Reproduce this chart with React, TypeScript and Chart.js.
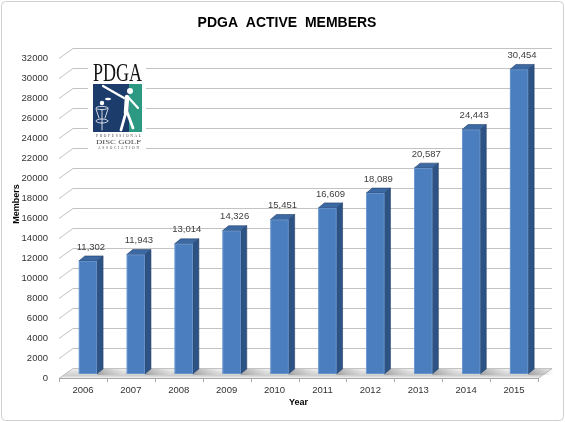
import React, { useEffect, useRef } from 'react';
import { Chart, registerables } from 'chart.js';

Chart.register(...registerables);

const categories = ['2006', '2007', '2008', '2009', '2010', '2011', '2012', '2013', '2014', '2015'];
const members = [11302, 11943, 13014, 14326, 15451, 16609, 18089, 20587, 24443, 30454];
const yMin = 0;
const yMax = 32000;
const yStep = 2000;
const chartTitle = 'PDGA  ACTIVE  MEMBERS';
const xTitle = 'Year';
const yTitle = 'Members';
const logoWord = 'PDGA';
const logoLines = ['PROFESSIONAL', 'DISC GOLF', 'ASSOCIATION'];

const SANS = "'Liberation Sans', Arial, sans-serif";
const SERIF = "'Liberation Serif', 'DejaVu Serif', serif";

const WALL = { dx: 14, dy: 10 };
const BAR = { ox: 5, oy: 4, dx: 6, dy: 5 };

function fitText(ctx: any, text: string, x: number, y: number, width: number) {
  const w = ctx.measureText(text).width;
  ctx.save();
  ctx.translate(x, y);
  ctx.scale(width / w, 1);
  ctx.fillText(text, 0, 0);
  ctx.restore();
}

function spacedText(ctx: any, text: string, x: number, y: number, width: number) {
  const chars = text.split('');
  const widths = chars.map((c) => ctx.measureText(c).width);
  const total = widths.reduce((a, b) => a + b, 0);
  const gap = chars.length > 1 ? (width - total) / (chars.length - 1) : 0;
  let cx = x;
  chars.forEach((c, i) => {
    ctx.fillText(c, cx, y);
    cx += widths[i] + gap;
  });
}

function drawLogo(ctx: any) {
  ctx.save();
  ctx.fillStyle = '#ffffff';
  ctx.fillRect(88, 55, 58, 98);
  ctx.fillStyle = '#141414';
  ctx.textBaseline = 'alphabetic';
  ctx.textAlign = 'left';
  ctx.font = `26px ${SERIF}`;
  fitText(ctx, logoWord, 93, 81, 49);
  // panel
  ctx.fillStyle = '#1c3d6c';
  ctx.fillRect(93, 84, 49, 48);
  ctx.fillStyle = '#2c9a82';
  ctx.fillRect(129, 84, 13, 48);
  // figure
  ctx.strokeStyle = '#ffffff';
  ctx.fillStyle = '#ffffff';
  ctx.lineCap = 'round';
  ctx.lineWidth = 2.2;
  ctx.beginPath();
  ctx.moveTo(103, 86);
  ctx.lineTo(124, 98);
  ctx.moveTo(128, 97);
  ctx.lineTo(138, 108);
  ctx.stroke();
  ctx.lineWidth = 4.5;
  ctx.beginPath();
  ctx.moveTo(127, 97);
  ctx.lineTo(126, 113);
  ctx.stroke();
  ctx.lineWidth = 2.8;
  ctx.beginPath();
  ctx.moveTo(126, 112);
  ctx.lineTo(121, 130);
  ctx.moveTo(127, 112);
  ctx.lineTo(133, 128);
  ctx.stroke();
  ctx.beginPath();
  ctx.arc(130, 91, 3, 0, Math.PI * 2);
  ctx.fill();
  ctx.beginPath();
  ctx.ellipse(108, 99, 3, 1.2, 0, 0, Math.PI * 2);
  ctx.fill();
  // basket
  ctx.lineWidth = 0.8;
  ctx.beginPath();
  ctx.ellipse(102, 108, 6, 1.6, 0, 0, Math.PI * 2);
  ctx.moveTo(96, 109);
  ctx.lineTo(99, 118);
  ctx.moveTo(108, 109);
  ctx.lineTo(105, 118);
  ctx.moveTo(102, 110);
  ctx.lineTo(102, 130);
  ctx.stroke();
  ctx.beginPath();
  ctx.ellipse(102, 121, 6, 2, 0, 0, Math.PI * 2);
  ctx.stroke();
  ctx.beginPath();
  ctx.arc(102, 103, 2.2, 0, Math.PI * 2);
  ctx.fill();
  // caption
  ctx.fillStyle = '#4a4a4a';
  ctx.font = `3.6px ${SERIF}`;
  spacedText(ctx, logoLines[0], 96, 137, 45);
  ctx.font = `6.5px ${SERIF}`;
  fitText(ctx, logoLines[1], 96, 143.5, 45);
  ctx.font = `3.6px ${SERIF}`;
  spacedText(ctx, logoLines[2], 98, 148.5, 41);
  ctx.restore();
}

export default function App() {
  const ref = useRef<HTMLCanvasElement>(null);

  useEffect(() => {
    document.body.style.margin = '0';
    const canvas = ref.current;
    if (!canvas) return;

    const framePlugin = {
      id: 'frame',
      beforeDraw(chart: any) {
        const { ctx, width, height } = chart;
        ctx.save();
        ctx.fillStyle = '#ffffff';
        ctx.fillRect(0, 0, width, height);
        ctx.strokeStyle = '#cfcfcf';
        ctx.lineWidth = 1;
        ctx.beginPath();
        ctx.roundRect(1.5, 1.5, width - 3, height - 3, 4);
        ctx.stroke();
        ctx.restore();
      },
      afterDraw(chart: any) {
        const { ctx } = chart;
        ctx.save();
        ctx.translate(17, 204);
        ctx.rotate(-Math.PI / 2);
        ctx.font = `bold 9px ${SANS}`;
        ctx.fillStyle = '#000000';
        ctx.textAlign = 'center';
        ctx.textBaseline = 'middle';
        ctx.fillText(yTitle, 0, 0);
        ctx.restore();
      },
    };

    const wallPlugin = {
      id: 'wall3d',
      beforeDatasetsDraw(chart: any) {
        const { ctx, chartArea, scales } = chart;
        const { left, right, bottom } = chartArea;
        const y = scales.y;
        const x = scales.x;
        ctx.save();
        // floor
        const g = ctx.createLinearGradient(0, bottom - WALL.dy, 0, bottom);
        g.addColorStop(0, '#f4f4f4');
        g.addColorStop(0.45, '#dcdcdc');
        g.addColorStop(0.75, '#cfcfcf');
        g.addColorStop(1, '#efefef');
        ctx.fillStyle = g;
        ctx.beginPath();
        ctx.moveTo(left, bottom);
        ctx.lineTo(right, bottom);
        ctx.lineTo(right + WALL.dx, bottom - WALL.dy);
        ctx.lineTo(left + WALL.dx, bottom - WALL.dy);
        ctx.closePath();
        ctx.fill();
        // back wall gridlines with side diagonals
        ctx.strokeStyle = '#c3c3c3';
        ctx.lineWidth = 1;
        y.ticks.forEach((t: any) => {
          const py = Math.round(y.getPixelForValue(t.value)) + 0.5;
          ctx.beginPath();
          ctx.moveTo(left, py);
          ctx.lineTo(left + WALL.dx, py - WALL.dy);
          ctx.lineTo(right + WALL.dx, py - WALL.dy);
          ctx.stroke();
        });
        // right floor edge
        ctx.strokeStyle = '#b8b8b8';
        ctx.beginPath();
        ctx.moveTo(right, bottom + 0.5);
        ctx.lineTo(right + WALL.dx, bottom - WALL.dy + 0.5);
        ctx.stroke();
        // front axis line + ticks
        ctx.strokeStyle = '#a9a9a9';
        ctx.beginPath();
        ctx.moveTo(left, Math.round(bottom) + 0.5);
        ctx.lineTo(right, Math.round(bottom) + 0.5);
        const n = categories.length;
        for (let i = 0; i <= n; i++) {
          let bx;
          if (i === 0) bx = left;
          else if (i === n) bx = right;
          else bx = (x.getPixelForValue(i - 1) + x.getPixelForValue(i)) / 2;
          bx = Math.round(bx) + 0.5;
          ctx.moveTo(bx, bottom);
          ctx.lineTo(bx, bottom + 4);
        }
        ctx.stroke();
        // shadows of bars on floor
        const meta = chart.getDatasetMeta(0);
        meta.data.forEach((el: any) => {
          const { x: bxc, width } = el.getProps(['x', 'width'], true);
          const x1 = bxc + width / 2 + BAR.ox;
          const sb = bottom - BAR.oy;
          const sg = ctx.createLinearGradient(x1, 0, x1 + 26, 0);
          sg.addColorStop(0, 'rgba(120,120,120,0.55)');
          sg.addColorStop(1, 'rgba(150,150,150,0)');
          ctx.fillStyle = sg;
          ctx.beginPath();
          ctx.moveTo(x1, sb + 1);
          ctx.lineTo(x1 + 22, sb + 1);
          ctx.lineTo(x1 + 30, sb - 5);
          ctx.lineTo(x1 + BAR.dx, sb - BAR.dy);
          ctx.closePath();
          ctx.fill();
        });
        drawLogo(ctx);
        ctx.restore();
      },
      beforeDatasetDraw(chart: any) {
        chart.ctx.save();
        chart.ctx.translate(BAR.ox, -BAR.oy);
      },
      afterDatasetDraw(chart: any, args: any) {
        const { ctx } = chart;
        const meta = args.meta;
        meta.data.forEach((el: any, i: number) => {
          const { x, y, base, width } = el.getProps(['x', 'y', 'base', 'width'], true);
          const x0 = x - width / 2;
          const x1 = x + width / 2;
          // side face
          ctx.fillStyle = '#2d5385';
          ctx.strokeStyle = '#23406a';
          ctx.lineWidth = 0.6;
          ctx.beginPath();
          ctx.moveTo(x1, y);
          ctx.lineTo(x1 + BAR.dx, y - BAR.dy);
          ctx.lineTo(x1 + BAR.dx, base - BAR.dy);
          ctx.lineTo(x1, base);
          ctx.closePath();
          ctx.fill();
          ctx.stroke();
          // top face
          ctx.fillStyle = '#3d69a3';
          ctx.beginPath();
          ctx.moveTo(x0, y);
          ctx.lineTo(x0 + BAR.dx, y - BAR.dy);
          ctx.lineTo(x1 + BAR.dx, y - BAR.dy);
          ctx.lineTo(x1, y);
          ctx.closePath();
          ctx.fill();
          ctx.stroke();
          // front outline
          ctx.strokeStyle = '#6f9bd2';
          ctx.lineWidth = 0.8;
          ctx.strokeRect(x0 + 0.4, y + 0.4, width - 0.8, base - y - 0.8);
          // value label
          ctx.fillStyle = '#404040';
          ctx.font = `9.5px ${SANS}`;
          ctx.textAlign = 'center';
          ctx.textBaseline = 'middle';
          ctx.fillText(members[i].toLocaleString('en-US'), x + BAR.dx / 2, y - 14);
        });
        ctx.restore();
      },
    };

    const chart = new Chart(canvas, {
      type: 'bar',
      data: {
        labels: categories,
        datasets: [
          {
            data: members,
            backgroundColor: '#4a7ebf',
            borderWidth: 0,
            barPercentage: 0.38,
            categoryPercentage: 1,
            clip: false,
          } as any,
        ],
      },
      options: {
        animation: false,
        responsive: false,
        devicePixelRatio: 1,
        layout: { padding: { left: 9, right: 0, top: 0, bottom: 0 } },
        plugins: {
          legend: { display: false },
          tooltip: { enabled: false },
          title: {
            display: true,
            text: chartTitle,
            color: '#000000',
            font: { family: SANS, size: 14, weight: 'bold' },
            padding: { top: 15, bottom: 26.2 },
          },
        },
        scales: {
          x: {
            grid: { display: false, drawTicks: false },
            border: { display: false },
            ticks: { padding: 7, color: '#333333', font: { family: SANS, size: 9.5 } },
            title: {
              display: true,
              text: xTitle,
              color: '#000000',
              font: { family: SANS, size: 9, weight: 'bold' },
              padding: { top: 0, bottom: 13.6 },
            },
            afterFit(s: any) {
              s.height = 44;
            },
          },
          y: {
            min: yMin,
            max: yMax,
            grid: { display: false, drawTicks: false },
            border: { display: false },
            ticks: {
              stepSize: yStep,
              padding: 11,
              color: '#333333',
              font: { family: SANS, size: 9.5 },
              callback: (v: any) => String(v),
            },
            afterFit(s: any) {
              s.width = 50;
            },
          },
          yRight: {
            position: 'right',
            display: true,
            min: yMin,
            max: yMax,
            grid: { display: false, drawTicks: false },
            border: { display: false },
            ticks: { display: false },
            afterFit(s: any) {
              s.width = 27;
            },
          },
        },
      } as any,
      plugins: [framePlugin, wallPlugin],
    });

    return () => chart.destroy();
  }, []);

  return <canvas ref={ref} width={565} height={422} style={{ display: 'block' }} />;
}
